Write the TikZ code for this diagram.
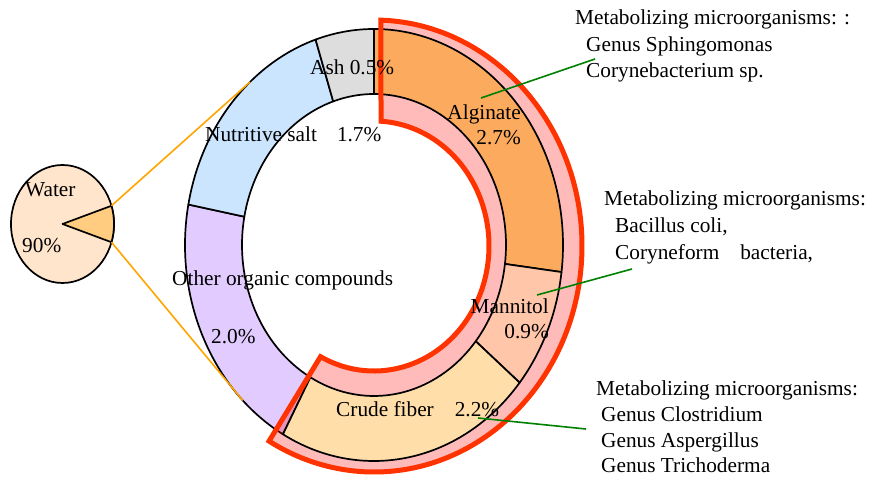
\documentclass[tikz,border=0pt]{standalone}
\usepackage{fontspec}
\setmainfont{Liberation Serif}
\usetikzlibrary{calc}
\definecolor{alg}{RGB}{252,170,94}
\definecolor{man}{RGB}{255,198,170}
\definecolor{cru}{RGB}{255,222,170}
\definecolor{oth}{RGB}{226,204,255}
\definecolor{nut}{RGB}{204,229,255}
\definecolor{ashc}{RGB}{221,221,221}
\definecolor{wat}{RGB}{255,229,204}
\definecolor{wed}{RGB}{255,204,128}
\definecolor{bandred}{RGB}{255,51,0}
\definecolor{grn}{RGB}{0,128,0}
\definecolor{orl}{RGB}{255,165,0}
\tikzset{
  segline/.style={draw=black, line width=1.7pt, line join=round},
  lbl/.style={font=\fontsize{21.3}{26}\selectfont, inner sep=0pt},
  grnline/.style={draw=grn, line width=1.6pt},
  orline/.style={draw=orl, line width=1.6pt},
  bandpath/.style={line width=5pt, line join=miter}
}
\newcommand\ringseg[3]{\filldraw[segline, fill=#3] (#1:189pt and 216pt) arc[start angle=#1, end angle=#2, x radius=189pt, y radius=216pt] -- (#2:132pt and 151pt) arc[start angle=#2, end angle=#1, x radius=132pt, y radius=151pt] -- cycle;}
\newcommand\bandshape{(88.1:208pt and 226pt) arc[start angle=88.1, end angle=-120.3, x radius=208pt, y radius=226pt] -- (-117.7:115pt and 125pt) arc[start angle=-117.7, end angle=86.5, x radius=115pt, y radius=125pt] -- cycle}
\begin{document}
\begin{tikzpicture}[x=1pt,y=1pt]
\useasboundingbox (0,0) rectangle (880,479);
% water pie
\coordinate (P) at (62.5,255);
\filldraw[segline, fill=wat] (P) ellipse [x radius=51.5pt, y radius=59pt];
\filldraw[segline, fill=wed] (P) -- ($(P)+(-18:51.5pt and 59pt)$) arc[start angle=-18, end angle=18, x radius=51.5pt, y radius=59pt] -- cycle;
\coordinate (wtop) at ($(P)+(18:51.5pt and 59pt)$);
\coordinate (wbot) at ($(P)+(-18:51.5pt and 59pt)$);
% ring
\begin{scope}[shift={(374,234)}]
\ringseg{-118.8}{-190.8}{oth}
\ringseg{169.2}{108}{nut}
\ringseg{108}{90}{ashc}
\end{scope}
\begin{scope}[shift={(374,233)}]
\path[fill=red, fill opacity=0.27] \bandshape;
\end{scope}
\begin{scope}[shift={(374,234)}]
\ringseg{90}{-7.2}{alg}
\ringseg{-7.2}{-39.6}{man}
\ringseg{-39.6}{-118.8}{cru}
\coordinate (rtop) at (131:189pt and 216pt);
\coordinate (rbot) at (-134:189pt and 216pt);
\end{scope}
\begin{scope}[shift={(374,233)}]
\draw[bandred, bandpath] \bandshape;
\end{scope}
% orange zoom lines
\draw[orline] (wtop) -- (rtop);
\draw[orline] (wbot) -- (rbot);
% green leader lines
\coordinate (g1a) at (481,381); \coordinate (g1b) at (595,420);
\coordinate (g2a) at (537,184); \coordinate (g2b) at (632,210);
\coordinate (g3a) at (478,61);  \coordinate (g3b) at (586,50);
\draw[grnline] (g1a) -- (g1b);
\draw[grnline] (g2a) -- (g2b);
\draw[grnline] (g3a) -- (g3b);
% ring labels
\node[lbl, anchor=base west] (tash) at (310,404) {Ash 0.5\%};
\node[lbl, anchor=base west] (tnut) at (205,337) {Nutritive salt\hspace{20pt}1.7\%};
\node[lbl, anchor=base east] (talg1) at (521,359) {Alginate};
\node[lbl, anchor=base east] (talg2) at (521,334) {2.7\%};
\node[lbl, anchor=base east] (tman1) at (549,165) {Mannitol};
\node[lbl, anchor=base east] (tman2) at (549,140) {0.9\%};
\node[lbl, anchor=base west] (tcru) at (336,63) {Crude fiber\hspace{21pt}2.2\%};
\node[lbl, anchor=base west] (toth1) at (172,193) {Other organic compounds};
\node[lbl, anchor=base west] (toth2) at (211,135) {2.0\%};
\node[lbl, anchor=base west] (twat1) at (25,282) {Water};
\node[lbl, anchor=base west] (twat2) at (22,226) {90\%};
% microorganism blocks
\node[lbl, anchor=base west] (m1a) at (575,454) {Metabolizing microorganisms: :};
\node[lbl, anchor=base west] (m1b) at (586,427) {Genus Sphingomonas};
\node[lbl, anchor=base west] (m1c) at (586,401) {Corynebacterium sp.};
\node[lbl, anchor=base west] (m2a) at (604,273) {Metabolizing microorganisms:};
\node[lbl, anchor=base west] (m2b) at (615,246) {Bacillus coli,};
\node[lbl, anchor=base west] (m2c) at (615,219) {Coryneform\hspace{21pt}bacteria,};
\node[lbl, anchor=base west] (m3a) at (596,83) {Metabolizing microorganisms:};
\node[lbl, anchor=base west] (m3b) at (601,57) {Genus Clostridium};
\node[lbl, anchor=base west] (m3c) at (601,32) {Genus Aspergillus};
\node[lbl, anchor=base west] (m3d) at (601,7) {Genus Trichoderma};
\end{tikzpicture}
\end{document}
